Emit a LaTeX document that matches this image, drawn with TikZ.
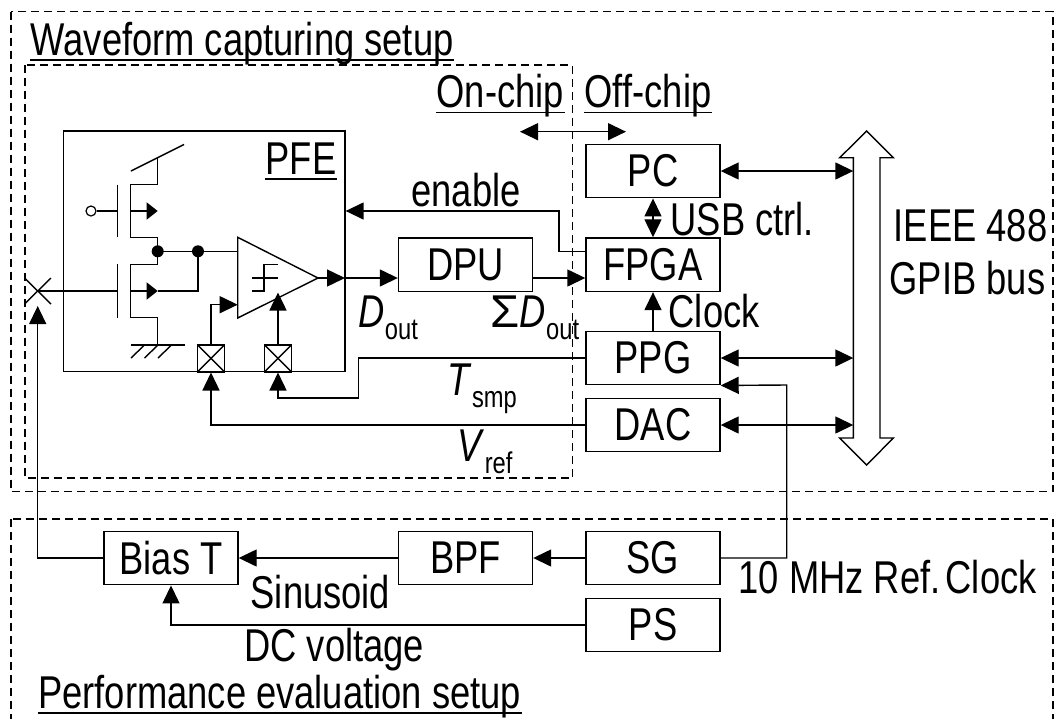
\documentclass[tikz,border=0pt]{standalone}
\usepackage{fontspec}
\setmainfont[FakeStretch=0.79]{Liberation Sans}
\usetikzlibrary{arrows.meta}
\tikzset{
	block/.style={draw,minimum width=134pt,minimum height=53.5pt,inner sep=0pt},
	lbl/.style={inner sep=0pt,anchor=base west},
	setup/.style={dash pattern=on 8pt off 5pt},
	swbox/.style={draw,minimum size=27pt,inner sep=0pt,path picture={
		\draw (path picture bounding box.north west)--(path picture bounding box.south east);
		\draw (path picture bounding box.north east)--(path picture bounding box.south west);}},
}
\newcommand{\sublbl}[2]{\textit{#1}\raisebox{-12pt}{\fontsize{30pt}{30pt}\selectfont #2}}
\begin{document}
\begin{tikzpicture}[x=1pt,y=-1pt,line width=1.4pt,>={Triangle[length=18pt,width=17pt]},font=\fontsize{46pt}{46pt}\selectfont]
	\useasboundingbox (0,0) rectangle (1054,718);
	% dashed frames
	\draw[setup] (11,11.7) rectangle (1053,491.7);
	\draw[setup] (11,519) rectangle (1053,730);
	\draw[setup] (25,65) rectangle (572.5,478);
	% instruments
	\node[block] (pc) at (653,171) {PC};
	\node[block] (fpga) at (653,264.7) {FPGA};
	\node[block] (ppg) at (653,358) {PPG};
	\node[block] (dac) at (653,425) {DAC};
	\node[block] (sg) at (653,558) {SG};
	\node[block] (ps) at (653,625) {PS};
	\node[block] (dpu) at (465.5,264.7) {DPU};
	\node[block] (bpf) at (465.5,558) {BPF};
	\node[block] (biast) at (171,558) {Bias T};
	% front end
	\node[draw,inner sep=0pt,minimum width=281.5pt,minimum height=240.5pt] (pfe) at (204.2,251.3) {};
	\node[swbox] (swa) at (211,358.3) {};
	\node[swbox] (swb) at (278,358.3) {};
	% upper transistor
	\node[draw,circle,inner sep=0pt,minimum size=10pt,line width=1.2pt] (bias) at (91,211) {};
	\draw (bias)--(117.3,211);
	\draw (117.3,184.7)--(117.3,237.3);
	\draw (131,171)--(184,144.5);
	\draw (157.7,158)--(157.7,184.7)--(130.7,184.7)--(130.7,237.3)--(157.7,237.3)--(157.7,264.3)--(130.7,264.3)--(130.7,317.7)--(157.7,317.7)--(157.7,345);
	\draw[-{Triangle[length=11pt,width=17pt]}] (130.7,211)--(157.7,211);
	% lower transistor
	\draw (117.3,264.3)--(117.3,317.7);
	\draw[-{Triangle[length=11pt,width=17pt]}] (130.7,291)--(157.7,291);
	\draw (157.7,291)--(198,291)--(198,251.3);
	\fill (157.7,251.3) circle(6);
	\fill (198,251.3) circle(6);
	% ground
	\draw (131,345)--(184.5,345);
	\foreach \x in {131,144.5,158} \draw (\x,358)--(\x+13.5,345);
	% comparator
	\coordinate (cmpout) at (318,278);
	\draw (237.7,237.3)--(237.7,318)--(cmpout)--cycle;
	\draw (157.7,251.3)--(237.7,251.3);
	\draw (251.7,278)--(278,278);
	\draw (278,264.3)--(264,264.3)--(264,291)--(251.7,291);
	\draw[->] (swa.north)--(211,304.7)--(237.7,304.7);
	\draw[->] (swb.north)--(278,292.5);
	\draw[->] (cmpout)--(345,278);
	% input
	\coordinate (padc) at (37.7,291);
	\draw (24.5,278)--(51,304);
	\draw (51,278)--(24.5,304);
	\draw (padc)--(117.3,291);
	\draw[->] (biast.west)-|(37.7,306);
	% signals
	\draw[->] (pfe.east |- 0,278)--(dpu.west |- 0,278);
	\draw[->] (dpu.east |- 0,278)--(fpga.west |- 0,278);
	\draw[->] (fpga.west |- 0,251.7)--(559,251.7)--(559,211)--(pfe.east |- 0,211);
	\draw[<->] (pc)--(fpga);
	\draw[->] (ppg)--(fpga);
	\draw[->] (ppg.west)--(358.3,358)--(358.3,398)--(278,398)--(swb.south);
	\draw[->] (dac.west)-|(swa.south);
	\draw[<->] (520,131.7)--(626,131.7);
	% bus
	\coordinate (bus) at (853.3,300);
	\draw[fill=white] (866.7,131)--(893.3,157.7)--(880,157.7)--(880,438)--(893.3,438)--(866.7,465)--(839.7,438)--(853.3,438)--(853.3,157.7)--(839.7,157.7)--cycle;
	\draw[<->] (pc.east)--(pc.east -| bus);
	\draw[<->] (ppg.east)--(ppg.east -| bus);
	\draw[<->] (dac.east)--(dac.east -| bus);
	% lower chain
	\draw[->] (sg.west)--(bpf.east);
	\draw[->] (bpf.west)--(biast.east);
	\draw[->] (ps.west)-|(biast.south);
	\draw[->] (sg.east)--(786.7,558)--(786.7,385)--(ppg.south east);
	% labels
	\node[lbl] (wave) at (30,55) {Waveform capturing setup};
	\node[lbl] (onchip) at (436,107.7) {On-chip};
	\node[lbl] (offchip) at (584,107.7) {Off-chip};
	\node[lbl] (pfetxt) at (265,174) {PFE};
	\node[lbl] (perf) at (37.5,708) {Performance evaluation setup};
	\foreach \n in {wave,onchip,offchip,pfetxt,perf}
		\draw ([yshift=-5pt]\n.base west)--([yshift=-5pt]\n.base east);
	\node[lbl] (en) at (410.7,206.7) {enable};
	\node[lbl] (dout) at (358,327) {\sublbl{D}{out}};
	\node[lbl] (sumd) at (490,327) {\scalebox{1.3}[1]{Σ}\sublbl{D}{out}};
	\node[lbl] (tsmp) at (447,395) {\sublbl{T}{smp}};
	\node[lbl] (vref) at (457,461.7) {\sublbl{V}{ref}};
	\node[lbl] (usb) at (670,235) {USB ctrl.};
	\node[lbl] (clk) at (668,327) {Clock};
	\node[lbl] (ieee) at (893,241.7) {IEEE 488};
	\node[lbl] (gpib) at (889,294) {GPIB bus};
	\node[lbl] (ref) at (738,593) {10 MHz Ref.\kern-5pt\ Clock};
	\node[lbl] (sin) at (250,608) {Sinusoid};
	\node[lbl] (dcv) at (243.6,661.7) {DC voltage};
\end{tikzpicture}
\end{document}
